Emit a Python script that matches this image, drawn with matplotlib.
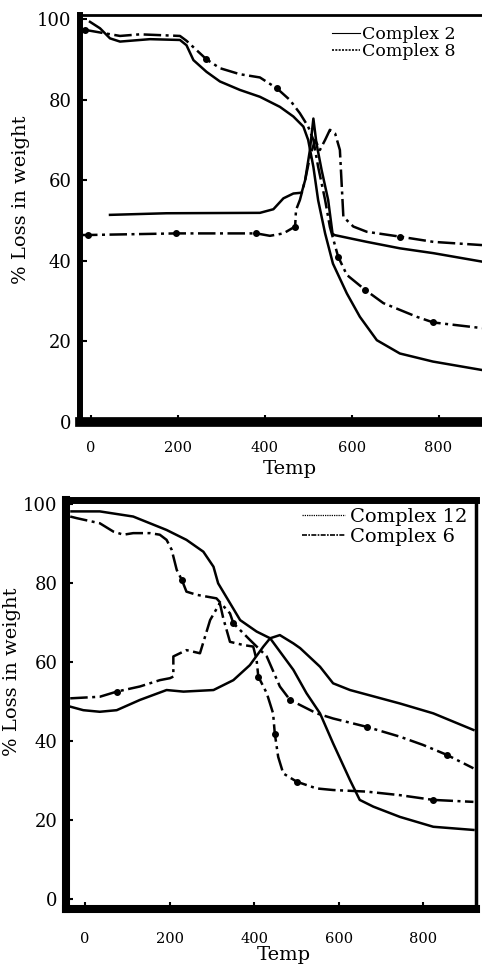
import matplotlib
matplotlib.use("Agg")
import matplotlib.pyplot as plt
from matplotlib.lines import Line2D

plt.rcParams["font.family"] = ["DejaVu Serif"]

# ── Top panel: Complex 2 (solid) / Complex 8 (dash-dot) ──────────────────────
tg2_temp = [-2, 21, 44, 67, 136, 205, 220, 236, 266, 297, 343, 389, 435, 466, 489,
            500, 512, 523, 539, 557, 589, 619, 658, 711, 787, 900]
tg2_loss = [99.3, 97.7, 95.2, 94.4, 95.0, 94.8, 93.5, 89.8, 86.9, 84.5, 82.4, 80.7,
            78.2, 75.8, 73.3, 70.0, 63.3, 55.0, 46.8, 39.3, 31.9, 26.1, 20.3, 17.0,
            15.0, 12.9]

dta2_temp = [44, 174, 389, 420, 443, 466, 485, 493, 504, 512, 519, 531, 546, 556,
             560, 635, 711, 788, 900]
dta2_loss = [51.4, 51.8, 51.9, 52.8, 55.5, 56.7, 56.9, 60.0, 67.5, 75.3, 69.2, 62.5,
             55.1, 46.8, 46.4, 44.7, 43.1, 41.9, 39.8]

tg8_temp = [-13, 67, 113, 205, 220, 266, 297, 343, 389, 428, 458, 481, 500, 512,
            523, 539, 550, 569, 589, 631, 673, 750, 788, 900]
tg8_loss = [97.3, 95.8, 96.2, 95.8, 94.6, 90.0, 87.8, 86.3, 85.5, 82.8, 79.9, 76.6,
            73.3, 70.0, 63.3, 55.1, 48.4, 41.0, 36.5, 32.8, 29.5, 26.1, 24.7, 23.3]
tg8_dots = [0, 5, 9, 17, 19, 22]

dta8_temp = [-25, -7, 197, 381, 412, 443, 470, 472, 481, 493, 504, 516, 527, 539,
             550, 562, 573, 577, 581, 604, 635, 711, 788, 900]
dta8_loss = [46.4, 46.4, 46.8, 46.8, 46.2, 46.8, 48.5, 52.6, 55.1, 60.0, 65.8, 70.0,
             67.5, 70.0, 72.5, 71.6, 67.5, 59.2, 50.9, 48.5, 47.2, 46.0, 44.7, 43.9]
dta8_dots = [1, 2, 3, 6, 21]

# ── Bottom panel: Complex 12 (solid) / Complex 6 (dash-dot) ──────────────────
tg12_temp = [-32, 35, 114, 193, 240, 280, 304, 315, 343, 367, 406, 438, 493, 524,
             556, 587, 627, 650, 682, 745, 824, 919]
tg12_loss = [98.1, 98.1, 96.8, 93.4, 90.9, 87.9, 84.1, 79.9, 74.9, 70.6, 67.7, 66.0,
             58.0, 52.1, 47.0, 39.4, 30.1, 25.1, 23.4, 20.8, 18.3, 17.5]

dta12_temp = [-35, -4, 35, 75, 130, 193, 233, 304, 351, 390, 422, 438, 461, 493,
              509, 556, 587, 627, 745, 824, 919]
dta12_loss = [48.7, 47.8, 47.4, 47.8, 50.4, 52.9, 52.5, 52.9, 55.4, 59.2, 63.9, 66.0,
              66.8, 64.7, 63.5, 58.8, 54.6, 52.9, 49.5, 47.0, 42.8]

tg6_temp = [-35, -20, 35, 67, 91, 114, 154, 177, 193, 205, 217, 229, 240, 264, 311,
            343, 351, 390, 430, 461, 485, 548, 587, 666, 745, 800, 856, 919]
tg6_loss = [96.8, 96.4, 95.1, 93.0, 92.2, 92.6, 92.6, 92.2, 90.9, 88.4, 83.3, 80.8,
            77.8, 77.0, 76.1, 72.3, 69.8, 65.6, 61.4, 53.8, 50.4, 47.0, 45.7, 43.6,
            41.1, 39.0, 36.5, 33.1]
tg6_dots = [11, 16, 20, 23, 26]

dta6_temp = [-35, 35, 75, 130, 177, 201, 209, 209, 240, 272, 284, 296, 319, 327,
             343, 374, 398, 406, 410, 430, 445, 449, 457, 469, 501, 548, 587, 666,
             745, 824, 919]
dta6_loss = [50.8, 51.2, 52.5, 53.8, 55.4, 55.9, 56.3, 61.4, 63.0, 62.2, 66.4, 70.6,
             74.9, 71.1, 65.1, 64.3, 63.9, 60.5, 56.3, 52.1, 47.0, 41.9, 36.0, 31.8,
             29.7, 28.0, 27.6, 27.2, 26.3, 25.1, 24.6]
dta6_dots = [2, 18, 21, 24, 29]

y_ticks = [0, 20, 40, 60, 80, 100]
x_ticks = [0, 200, 400, 600, 800]

DASHDOT = (0, (7, 1.8, 1.2, 1.8))
LW = 1.8


def draw_solid(ax, t, w):
    ax.plot(t, w, color="black", lw=LW, solid_joinstyle="round")


def draw_dashdot(ax, t, w, dots):
    ax.plot(t, w, color="black", lw=LW, linestyle=DASHDOT,
            marker="o", markersize=4, markevery=dots)


def style_axes(ax, spine_w, xlim, ylim, xpad):
    ax.set_xlim(*xlim)
    ax.set_ylim(*ylim)
    ax.set_xticks(x_ticks)
    ax.set_yticks(y_ticks)
    for side, w in spine_w.items():
        if w == 0:
            ax.spines[side].set_visible(False)
        else:
            ax.spines[side].set_linewidth(w)
    ax.tick_params(axis="both", direction="in", length=5, width=1.5)
    ax.tick_params(axis="y", labelsize=13, pad=6)
    ax.tick_params(axis="x", labelsize=10.5, pad=xpad)
    ax.set_ylabel("% Loss in weight", fontsize=14)
    ax.set_xlabel("Temp", fontsize=14)


fig = plt.figure(figsize=(4.82, 9.67), dpi=100)

# ── Top panel ────────────────────────────────────────────────────────────────
ax1 = fig.add_axes([0.166, 0.5636, 0.834, 0.4209])
draw_solid(ax1, tg2_temp, tg2_loss)
draw_solid(ax1, dta2_temp, dta2_loss)
draw_dashdot(ax1, tg8_temp, tg8_loss, tg8_dots)
draw_dashdot(ax1, dta8_temp, dta8_loss, dta8_dots)
style_axes(ax1, {"left": 4.3, "bottom": 7, "top": 2, "right": 0},
           (-25, 900), (0, 101), 14)
ax1.yaxis.set_label_coords(-0.124, 0.545)
ax1.xaxis.set_label_coords(0.522, -0.093)
ax1.legend(handles=[Line2D([], [], color="black", lw=0.8),
                    Line2D([], [], color="black", lw=1.2, ls=(0, (1.2, 0.8)))],
           labels=["Complex 2", "Complex 8"],
           loc="upper left", bbox_to_anchor=(0.627, 0.973), frameon=False,
           fontsize=12.5, handlelength=1.6, handletextpad=0.15,
           labelspacing=0.0, borderpad=0, borderaxespad=0)

# ── Bottom panel ─────────────────────────────────────────────────────────────
ax2 = fig.add_axes([0.1369, 0.06, 0.8506, 0.423])
draw_solid(ax2, tg12_temp, tg12_loss)
draw_solid(ax2, dta12_temp, dta12_loss)
draw_dashdot(ax2, tg6_temp, tg6_loss, tg6_dots)
draw_dashdot(ax2, dta6_temp, dta6_loss, dta6_dots)
style_axes(ax2, {"left": 5.8, "bottom": 5.8, "top": 5, "right": 2.5},
           (-45, 925), (-2.5, 101), 16.5)
ax2.yaxis.set_label_coords(-0.11, 0.58)
# reference has "Temp" running into the page edge; keep it just inside
ax2.xaxis.set_label_coords(0.532, -0.09)
ax2.legend(handles=[Line2D([], [], color="black", lw=0.9, ls=(0, (1, 0.8))),
                    Line2D([], [], color="black", lw=1.2, ls=(0, (3, 0.8, 1, 0.8)))],
           labels=["Complex 12", "Complex 6"],
           loc="upper left", bbox_to_anchor=(0.576, 0.98), frameon=False,
           fontsize=14, handlelength=2.2, handletextpad=0.25,
           labelspacing=0.1, borderpad=0, borderaxespad=0)

fig.savefig("out.png", dpi=100)
